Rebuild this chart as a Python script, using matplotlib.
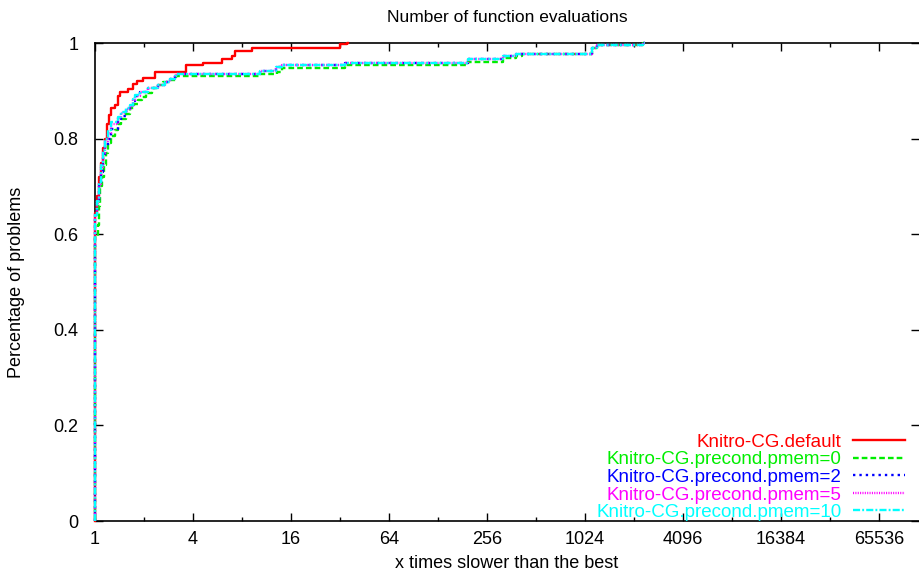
import numpy as np
import matplotlib
matplotlib.use('Agg')
import matplotlib.pyplot as plt
from matplotlib.ticker import FixedLocator, NullFormatter

plt.rcParams['font.family'] = ['Liberation Sans', 'DejaVu Sans']

# performance profile step points (tau = ratio to best, frac = share of problems)
default_tau = [1, 1, 1.03, 1.06, 1.09, 1.12, 1.15, 1.18, 1.22, 1.26, 1.32, 1.38, 1.42,
               1.6, 1.72, 1.82, 1.97, 2.33, 3.64, 4.59, 6.0, 6.92, 7.25, 9.26, 32, 35.2, 36]
default_frac = [0.0, 0.644, 0.68, 0.72, 0.75, 0.78, 0.80, 0.83, 0.85, 0.863, 0.87, 0.89, 0.898,
                0.903, 0.914, 0.921, 0.927, 0.940, 0.954, 0.959, 0.966, 0.973, 0.983, 0.990, 0.997, 1.0, 1.0]

pmem0_tau = [1, 1, 1.04, 1.06, 1.08, 1.10, 1.13, 1.17, 1.21, 1.26, 1.32, 1.38, 1.45, 1.54, 1.63,
             1.73, 1.84, 1.95, 2.07, 2.25, 2.44, 2.62, 2.81, 3.16, 10.3, 13.2, 14.0, 34.3, 197,
             322, 388, 419, 650, 1127, 1210, 2335, 2400]
pmem0_frac = [0.0, 0.595, 0.62, 0.66, 0.70, 0.72, 0.745, 0.769, 0.79, 0.805, 0.818, 0.83, 0.842,
              0.852, 0.863, 0.872, 0.881, 0.888, 0.895, 0.905, 0.912, 0.918, 0.923, 0.930, 0.935,
              0.940, 0.947, 0.954, 0.961, 0.968, 0.973, 0.977, 0.978, 0.989, 0.996, 1.0, 1.0]

pmem2_tau = [1, 1, 1.03, 1.06, 1.09, 1.12, 1.16, 1.2, 1.26, 1.39, 1.45, 1.55, 1.63, 1.7, 1.75,
             1.88, 2.12, 2.44, 2.68, 2.9, 3.09, 3.16, 10.3, 13.0, 14.0, 34.3, 197, 322, 388,
             1127, 1210, 2335, 2400]
pmem2_frac = [0.0, 0.64, 0.665, 0.70, 0.73, 0.76, 0.785, 0.80, 0.82, 0.838, 0.848, 0.858, 0.866,
              0.878, 0.889, 0.898, 0.905, 0.912, 0.919, 0.925, 0.930, 0.935, 0.942, 0.949, 0.954,
              0.959, 0.966, 0.973, 0.978, 0.989, 0.996, 1.0, 1.0]

pmem5_tau = [1, 1, 1.03, 1.06, 1.09, 1.12, 1.16, 1.2, 1.26, 1.39, 1.45, 1.55, 1.63, 1.7, 1.75,
             1.88, 2.12, 2.44, 2.68, 2.9, 3.09, 3.16, 10.3, 13.0, 14.0, 34.3, 197, 322, 388,
             1127, 1210, 2335, 2400]
pmem5_frac = [0.0, 0.64, 0.67, 0.705, 0.74, 0.77, 0.795, 0.812, 0.83, 0.843, 0.853, 0.861, 0.868,
              0.88, 0.89, 0.898, 0.905, 0.912, 0.919, 0.925, 0.930, 0.935, 0.942, 0.949, 0.954,
              0.959, 0.966, 0.973, 0.978, 0.989, 0.996, 1.0, 1.0]

pmem10_tau = [1, 1, 1.03, 1.06, 1.09, 1.12, 1.16, 1.2, 1.26, 1.39, 1.45, 1.55, 1.63, 1.7, 1.75,
              1.88, 2.12, 2.44, 2.68, 2.9, 3.09, 3.16, 10.3, 13.0, 14.0, 34.3, 197, 322, 388,
              1127, 1210, 2335, 2400]
pmem10_frac = [0.0, 0.64, 0.67, 0.71, 0.745, 0.776, 0.80, 0.818, 0.835, 0.846, 0.856, 0.863, 0.870,
               0.882, 0.891, 0.898, 0.905, 0.912, 0.919, 0.925, 0.930, 0.935, 0.942, 0.949, 0.954,
               0.959, 0.966, 0.973, 0.978, 0.989, 0.996, 1.0, 1.0]

labels = ['Knitro-CG.default', 'Knitro-CG.precond.pmem=0', 'Knitro-CG.precond.pmem=2',
          'Knitro-CG.precond.pmem=5', 'Knitro-CG.precond.pmem=10']
x_ticks = [1, 4, 16, 64, 256, 1024, 4096, 16384, 65536]
y_ticks = [0, 0.2, 0.4, 0.6, 0.8, 1]

series = [(default_tau, default_frac), (pmem0_tau, pmem0_frac), (pmem2_tau, pmem2_frac),
          (pmem5_tau, pmem5_frac), (pmem10_tau, pmem10_frac)]
colors = ['#ff0000', '#00ee00', '#0000ff', '#ff00ff', '#00ffff']
dash_styles = [None, (2.4, 1.3), (1.0, 1.7), (0.45, 0.55), (3.0, 0.9, 0.8, 0.9)]

fig = plt.figure(figsize=(9.2, 5.71), dpi=100)
ax = fig.add_axes([95 / 920, 50 / 571, 824.5 / 920, 478 / 571])

for (t, f), lab, col, ds in zip(series, labels, colors, dash_styles):
    line, = ax.step(t, f, where='post', color=col, lw=1.7, label=lab, zorder=3, clip_on=False)
    if ds is not None:
        line.set_dashes(ds)

ax.set_xscale('log', base=2)
ax.set_xlim(1, 2 ** 16.83)
ax.set_ylim(0, 1)
ax.xaxis.set_major_locator(FixedLocator(x_ticks))
ax.xaxis.set_minor_locator(FixedLocator([2 ** k for k in range(1, 17, 2)]))
ax.xaxis.set_minor_formatter(NullFormatter())
ax.set_xticklabels([str(v) for v in x_ticks])
ax.set_yticks(y_ticks)
ax.set_yticklabels(['0', '0.2', '0.4', '0.6', '0.8', '1'])

ax.tick_params(which='both', direction='in', top=True, right=True, labelsize=13, width=1.0)
ax.tick_params(which='major', length=6)
ax.tick_params(which='minor', length=3)
ax.tick_params(axis='y', pad=12)
ax.tick_params(axis='x', pad=7)
for s in ['left', 'bottom', 'top']:
    ax.spines[s].set_linewidth(1.2)
ax.spines['right'].set_visible(False)

ax.legend(loc='lower right', bbox_to_anchor=(0.983, 0.0), markerfirst=False, frameon=False,
          labelcolor='linecolor', fontsize=13.5, handlelength=2.8, handletextpad=0.6,
          labelspacing=0.02, borderpad=0, borderaxespad=0)

fig.text(507 / 920, 1 - 18 / 571, 'Number of function evaluations', ha='center', va='center', fontsize=12.5)
fig.text(507 / 920, 1 - 563 / 571, 'x times slower than the best', ha='center', va='center', fontsize=13)
fig.text(17 / 920, 1 - 282 / 571, 'Percentage of problems', ha='center', va='center',
         rotation=90, fontsize=13)

fig.savefig('out.png', dpi=100)
